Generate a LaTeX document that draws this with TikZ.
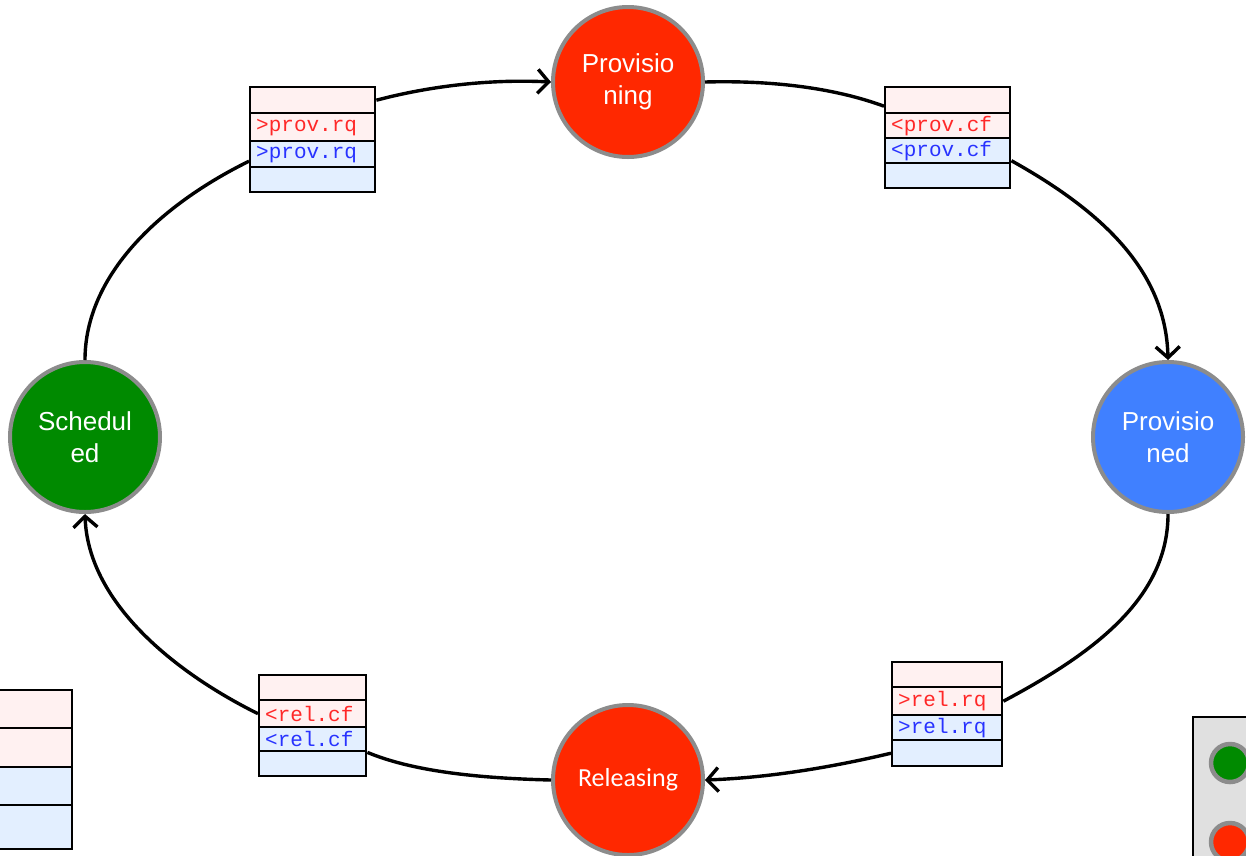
\documentclass[tikz,border=0pt]{standalone}
\usepackage{fontspec}
\setmainfont{Liberation Sans}
\setmonofont{Liberation Mono}
\newfontfamily\calib{Carlito}
\usetikzlibrary{arrows.meta}
\definecolor{cred}{RGB}{255,40,0}
\definecolor{cgreen}{RGB}{0,138,0}
\definecolor{cblue}{RGB}{64,128,255}
\definecolor{cgrey}{RGB}{140,140,140}
\definecolor{pinkf}{RGB}{255,241,241}
\definecolor{bluef}{RGB}{227,239,255}
\definecolor{tred}{RGB}{255,40,40}
\definecolor{tblue}{RGB}{40,50,255}
\definecolor{panel}{RGB}{224,224,224}
\tikzset{
  state/.style={circle, draw=cgrey, line width=4pt, minimum size=150pt, inner sep=0pt,
    text=white, align=center, font=\fontsize{26}{32}\selectfont},
  row/.style={rectangle, draw=black, line width=2.4pt, inner xsep=6pt, inner ysep=0pt,
    anchor=north west, font=\ttfamily\fontsize{21}{21}\selectfont},
  pinkrow/.style={row, fill=pinkf, text=tred},
  bluerow/.style={row, fill=bluef, text=tblue},
  flow/.style={line width=3.4pt, draw=black},
  tip/.style={-{Straight Barb[length=11pt,width=24pt,line width=3.4pt]}}
}
\newcommand{\rowbox}[7]{\node[#6, minimum width=#4pt, minimum height=#5pt] (#1) at (#2,#3) {\makebox[\dimexpr#4pt-12pt\relax][l]{#7}};}
\begin{document}
\begin{tikzpicture}[x=1pt,y=-1pt]
\useasboundingbox (0,0) rectangle (1246,855);
% states
\node[state, fill=cred] (prov) at (628,82) {Provisio\\ning};
\node[state, fill=cblue] (provd) at (1168,437) {Provisio\\ned};
\node[state, fill=cred, font=\calib\fontsize{26}{32}\selectfont] (rel) at (628,780) {Releasing};
\node[state, fill=cgreen, font=\fontsize{26}{32}\selectfont] (sched) at (85,437) {Schedul\\ed};
% box 1
\rowbox{b1a}{249}{86}{125}{26}{pinkrow}{}
\rowbox{b1b}{249}{112}{125}{28}{pinkrow}{>prov.rq}
\rowbox{b1c}{249}{140}{125}{26}{bluerow}{>prov.rq}
\rowbox{b1d}{249}{166}{125}{25}{bluerow}{}
% box 2
\rowbox{b2a}{884}{86}{125}{26}{pinkrow}{}
\rowbox{b2b}{884}{112}{125}{25}{pinkrow}{<prov.cf}
\rowbox{b2c}{884}{137}{125}{25}{bluerow}{<prov.cf}
\rowbox{b2d}{884}{162}{125}{25}{bluerow}{}
% box 3
\rowbox{b3a}{258}{674}{107}{25}{pinkrow}{}
\rowbox{b3b}{258}{699}{107}{27}{pinkrow}{<rel.cf}
\rowbox{b3c}{258}{726}{107}{24}{bluerow}{<rel.cf}
\rowbox{b3d}{258}{750}{107}{25}{bluerow}{}
% box 4
\rowbox{b4a}{891}{661}{110}{25}{pinkrow}{}
\rowbox{b4b}{891}{686}{110}{28}{pinkrow}{>rel.rq}
\rowbox{b4c}{891}{714}{110}{25}{bluerow}{>rel.rq}
\rowbox{b4d}{891}{739}{110}{26}{bluerow}{}
% legend box left
\rowbox{l1}{-20}{689}{91}{38}{pinkrow}{}
\rowbox{l2}{-20}{727}{91}{39}{pinkrow}{}
\rowbox{l3}{-20}{766}{91}{38}{bluerow}{}
\rowbox{l4}{-20}{804}{91}{44}{bluerow}{}
% legend panel right
\node[rectangle, draw=black, line width=1.5pt, fill=panel, anchor=north west,
  minimum width=80pt, minimum height=160pt] (panel) at (1192,716) {};
\node[circle, draw=cgrey, line width=4.5pt, fill=cgreen, minimum size=38pt] (lg) at (1230,763) {};
\node[circle, draw=cgrey, line width=4.5pt, fill=cred, minimum size=38pt] (lr) at (1230,842) {};
% connectors
\draw[flow] (sched.north) .. controls (85,275) and (160,205) .. ([yshift=-7pt]b1c.west);
\draw[flow,tip] (b1a.east) .. controls (430,86) and (490,79) .. (prov.west);
\draw[flow] (prov.east) .. controls (780,80) and (840,90) .. ([yshift=-6pt]b2a.west);
\draw[flow,tip] ([yshift=-10pt]b2c.east) .. controls (1100,210) and (1166,270) .. (provd.north);
\draw[flow] (provd.south) .. controls (1168,600) and (1090,655) .. (b4b.east);
\draw[flow,tip] (b4d.west) .. controls (820,770) and (760,778) .. (rel.east);
\draw[flow] (rel.west) .. controls (470,778) and (410,770) .. (b3c.south east);
\draw[flow,tip] (b3b.west) .. controls (170,670) and (88,600) .. (sched.south);
\end{tikzpicture}
\end{document}
